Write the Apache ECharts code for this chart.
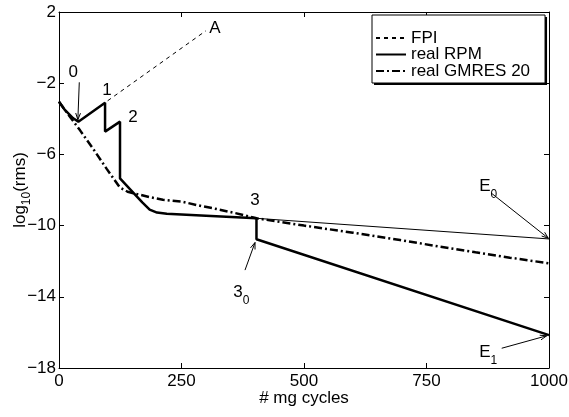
<!DOCTYPE html>
<html><head><meta charset="utf-8">
<script src="https://cdn.jsdelivr.net/npm/echarts@6/dist/echarts.min.js"></script>
<style>html,body{margin:0;padding:0;background:#fff}#c{width:569px;height:417px}</style>
</head><body><div id="c"></div>
<script>
// ---- data ----
const xTicks = [0, 250, 500, 750, 1000];
const yTicks = [-18, -14, -10, -6, -2, 2];

const fpiX = [0, 12, 29, 39.5, 300];
const fpiY = [-3.04, -3.5, -3.97, -4.16, 0.95];

const rpmX = [0, 12, 29, 39.5, 94, 94, 124.5, 124.5, 150, 170, 185, 200, 220, 300, 403, 403, 1000];
const rpmY = [-3.04, -3.5, -3.97, -4.16, -3.1, -4.72, -4.16, -7.35, -8.1, -8.7, -9.1, -9.27, -9.33, -9.44, -9.59, -10.77, -16.15];

const gmresX = [0, 20, 43, 70, 97, 124, 140, 158, 185, 212, 250, 290, 315, 360, 403, 500, 600, 696, 777, 850, 920, 1000];
const gmresY = [-3.04, -3.8, -4.65, -5.7, -6.8, -7.85, -8.1, -8.22, -8.4, -8.55, -8.65, -8.9, -9.03, -9.3, -9.59, -10.0, -10.4, -10.81, -11.18, -11.5, -11.8, -12.12];

const e0X = [403, 1000];
const e0Y = [-9.59, -10.75];

const seriesNames = ['FPI', 'real RPM', 'real GMRES 20'];

// annotation labels (data coordinates)
const labelText = ['0', '1', '2', '3', 'A', '3|0', 'E|0', 'E|1'];
const labelAt = [[29, -1.35], [98, -2.38], [151, -3.9], [400, -8.56], [318, 1.1], [372, -13.7], [876, -7.75], [876, -17.1]];
const arrowFrom = [[41.4, -1.95], null, null, null, null, [379.6, -12.5], [883, -8.19], [903.5, -16.89]];
const arrowTo = [[38.5, -4.05], null, null, null, null, [400, -10.95], [998.6, -10.71], [995.3, -16.19]];

function pairs(xs, ys) { return xs.map((x, i) => [x, ys[i]]); }

const FONT = 'Liberation Sans, Arial, Helvetica, sans-serif';
const FS = 17;
const chart = echarts.init(document.getElementById('c'), null, { renderer: 'canvas' });

const axisCommon = {
  axisLine: { show: true, onZero: false, lineStyle: { color: '#000', width: 1 } },
  axisTick: { show: true, inside: true, length: 5, lineStyle: { color: '#000' } },
  splitLine: { show: false }
};

const legendBase = {
  data: seriesNames,
  orient: 'vertical',
  left: 372, top: 15,
  borderRadius: 0,
  padding: [14, 15, 3, 3],
  itemWidth: 30, itemHeight: 14, itemGap: -1.5,
  selectedMode: false
};

chart.setOption({
  animation: false,
  backgroundColor: '#fff',
  textStyle: { fontFamily: FONT },
  grid: { left: 59, right: 20, top: 12, bottom: 49, containLabel: false, outerBoundsMode: 'none' },
  legend: [
    // shadow box (fill shadow only)
    Object.assign({}, legendBase, {
      z: 4,
      backgroundColor: '#fff', borderWidth: 0,
      shadowColor: '#000', shadowBlur: 0, shadowOffsetX: 2, shadowOffsetY: 2,
      itemStyle: { opacity: 0 }, lineStyle: { opacity: 0 },
      textStyle: { fontFamily: FONT, fontSize: FS, color: 'rgba(0,0,0,0)', lineHeight: 18 }
    }),
    // visible legend with crisp border
    Object.assign({}, legendBase, {
      z: 5,
      backgroundColor: 'rgba(0,0,0,0)', borderColor: '#000', borderWidth: 1,
      itemStyle: { opacity: 0 },
      textStyle: { fontFamily: FONT, fontSize: FS, color: '#000', lineHeight: 18 }
    })
  ],
  xAxis: [
    Object.assign({ type: 'value', min: xTicks[0], max: xTicks[xTicks.length - 1], interval: xTicks[1] - xTicks[0],
      position: 'bottom',
      name: '# mg cycles', nameLocation: 'middle', nameGap: 22, nameMoveOverlap: false,
      nameTextStyle: { fontFamily: FONT, fontSize: FS, color: '#000' },
      axisLabel: { fontFamily: FONT, fontSize: FS, color: '#000', margin: 5, formatter: v => String(v) } }, axisCommon),
    Object.assign({ type: 'value', min: xTicks[0], max: xTicks[xTicks.length - 1], interval: xTicks[1] - xTicks[0],
      position: 'top', axisLabel: { show: false } }, axisCommon)
  ],
  yAxis: [
    Object.assign({ type: 'value', min: yTicks[0], max: yTicks[yTicks.length - 1], interval: yTicks[1] - yTicks[0],
      position: 'left',
      name: '{a|log}{s|10}{a|(rms)}', nameLocation: 'middle', nameGap: 30, nameMoveOverlap: false,
      nameTextStyle: { fontFamily: FONT, fontSize: FS, color: '#000',
        rich: { a: { fontFamily: FONT, fontSize: FS, color: '#000', lineHeight: 20, verticalAlign: 'bottom' },
                s: { fontFamily: FONT, fontSize: 12, color: '#000', lineHeight: 20, verticalAlign: 'bottom', padding: [0, 0, -4, 0] } } },
      axisLabel: { fontFamily: FONT, fontSize: FS, color: '#000', margin: 3,
        formatter: v => String(v).replace('-', '\u2212') } }, axisCommon),
    Object.assign({ type: 'value', min: yTicks[0], max: yTicks[yTicks.length - 1], interval: yTicks[1] - yTicks[0],
      position: 'right', axisLabel: { show: false } }, axisCommon)
  ],
  series: [
    { name: 'E0', type: 'line', data: pairs(e0X, e0Y), symbol: 'none', silent: true,
      lineStyle: { color: '#000', width: 1 }, itemStyle: { color: '#000' }, z: 2 },
    { name: seriesNames[0], type: 'line', data: pairs(fpiX, fpiY), symbol: 'none',
      lineStyle: { color: '#000', width: 1, type: [4, 4] }, itemStyle: { color: '#000' }, z: 3 },
    { name: seriesNames[2], type: 'line', data: pairs(gmresX, gmresY), symbol: 'none',
      lineStyle: { color: '#000', width: 2.5, type: [8, 3, 2, 3] }, itemStyle: { color: '#000' }, z: 4 },
    { name: seriesNames[1], type: 'line', data: pairs(rpmX, rpmY), symbol: 'none',
      lineStyle: { color: '#000', width: 2.5 }, itemStyle: { color: '#000' }, z: 5 }
  ]
});

// annotations placed via the chart's own coordinate conversion
const toPx = p => chart.convertToPixel({ gridIndex: 0 }, p);
const rich = {
  a: { fontFamily: FONT, fontSize: FS, fill: '#000', lineHeight: 18, verticalAlign: 'bottom' },
  s: { fontFamily: FONT, fontSize: 12, fill: '#000', lineHeight: 18, verticalAlign: 'bottom', padding: [0, 0, -6, 0] }
};
const elements = [];
labelText.forEach((t, i) => {
  const p = toPx(labelAt[i]);
  const parts = t.split('|');
  const txt = parts.length > 1 ? '{a|' + parts[0] + '}{s|' + parts[1] + '}' : '{a|' + parts[0] + '}';
  elements.push({ type: 'text', x: p[0], y: p[1], z: 100,
    style: { text: txt, rich: rich, align: 'center', verticalAlign: 'middle', fill: '#000', font: FS + 'px ' + FONT } });
  if (arrowFrom[i]) {
    const a = toPx(arrowFrom[i]), b = toPx(arrowTo[i]);
    const ang = Math.atan2(b[1] - a[1], b[0] - a[0]);
    const L = 7, W = 0.35;
    const h1 = [b[0] - L * Math.cos(ang - W), b[1] - L * Math.sin(ang - W)];
    const h2 = [b[0] - L * Math.cos(ang + W), b[1] - L * Math.sin(ang + W)];
    elements.push({ type: 'line', z: 100, shape: { x1: a[0], y1: a[1], x2: b[0], y2: b[1] }, style: { stroke: '#000', lineWidth: 1 } });
    elements.push({ type: 'polyline', z: 100, shape: { points: [h1, b, h2] }, style: { stroke: '#000', lineWidth: 1, fill: null } });
  }
});
chart.setOption({ graphic: elements });
</script>
</body></html>
